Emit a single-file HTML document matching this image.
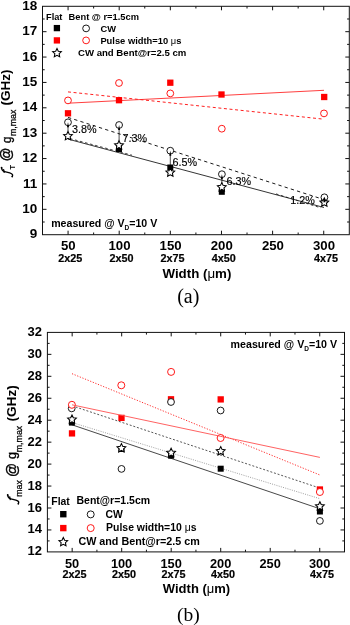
<!DOCTYPE html>
<html><head><meta charset="utf-8"><style>
html,body{margin:0;padding:0;background:#fff;}
body{width:350px;height:625px;overflow:hidden;font-family:"Liberation Sans", sans-serif;}
svg{display:block;will-change:transform;}
</style></head><body>
<svg width="350" height="625" viewBox="0 0 350 625">
<rect width="350" height="625" fill="#fff"/>
<rect x="42.50" y="6.30" width="306.80" height="228.40" fill="none" stroke="#111" stroke-width="1.00"/>
<line x1="68.07" y1="234.70" x2="68.07" y2="230.70" stroke="#111" stroke-width="1.00"/>
<line x1="68.07" y1="6.30" x2="68.07" y2="10.30" stroke="#111" stroke-width="1.00"/>
<line x1="119.20" y1="234.70" x2="119.20" y2="230.70" stroke="#111" stroke-width="1.00"/>
<line x1="119.20" y1="6.30" x2="119.20" y2="10.30" stroke="#111" stroke-width="1.00"/>
<line x1="170.33" y1="234.70" x2="170.33" y2="230.70" stroke="#111" stroke-width="1.00"/>
<line x1="170.33" y1="6.30" x2="170.33" y2="10.30" stroke="#111" stroke-width="1.00"/>
<line x1="221.47" y1="234.70" x2="221.47" y2="230.70" stroke="#111" stroke-width="1.00"/>
<line x1="221.47" y1="6.30" x2="221.47" y2="10.30" stroke="#111" stroke-width="1.00"/>
<line x1="272.60" y1="234.70" x2="272.60" y2="230.70" stroke="#111" stroke-width="1.00"/>
<line x1="272.60" y1="6.30" x2="272.60" y2="10.30" stroke="#111" stroke-width="1.00"/>
<line x1="323.73" y1="234.70" x2="323.73" y2="230.70" stroke="#111" stroke-width="1.00"/>
<line x1="323.73" y1="6.30" x2="323.73" y2="10.30" stroke="#111" stroke-width="1.00"/>
<line x1="93.63" y1="234.70" x2="93.63" y2="232.50" stroke="#111" stroke-width="1.00"/>
<line x1="93.63" y1="6.30" x2="93.63" y2="8.50" stroke="#111" stroke-width="1.00"/>
<line x1="144.77" y1="234.70" x2="144.77" y2="232.50" stroke="#111" stroke-width="1.00"/>
<line x1="144.77" y1="6.30" x2="144.77" y2="8.50" stroke="#111" stroke-width="1.00"/>
<line x1="195.90" y1="234.70" x2="195.90" y2="232.50" stroke="#111" stroke-width="1.00"/>
<line x1="195.90" y1="6.30" x2="195.90" y2="8.50" stroke="#111" stroke-width="1.00"/>
<line x1="247.03" y1="234.70" x2="247.03" y2="232.50" stroke="#111" stroke-width="1.00"/>
<line x1="247.03" y1="6.30" x2="247.03" y2="8.50" stroke="#111" stroke-width="1.00"/>
<line x1="298.17" y1="234.70" x2="298.17" y2="232.50" stroke="#111" stroke-width="1.00"/>
<line x1="298.17" y1="6.30" x2="298.17" y2="8.50" stroke="#111" stroke-width="1.00"/>
<line x1="42.50" y1="209.32" x2="46.50" y2="209.32" stroke="#111" stroke-width="1.00"/>
<line x1="349.30" y1="209.32" x2="345.30" y2="209.32" stroke="#111" stroke-width="1.00"/>
<line x1="42.50" y1="183.94" x2="46.50" y2="183.94" stroke="#111" stroke-width="1.00"/>
<line x1="349.30" y1="183.94" x2="345.30" y2="183.94" stroke="#111" stroke-width="1.00"/>
<line x1="42.50" y1="158.57" x2="46.50" y2="158.57" stroke="#111" stroke-width="1.00"/>
<line x1="349.30" y1="158.57" x2="345.30" y2="158.57" stroke="#111" stroke-width="1.00"/>
<line x1="42.50" y1="133.19" x2="46.50" y2="133.19" stroke="#111" stroke-width="1.00"/>
<line x1="349.30" y1="133.19" x2="345.30" y2="133.19" stroke="#111" stroke-width="1.00"/>
<line x1="42.50" y1="107.81" x2="46.50" y2="107.81" stroke="#111" stroke-width="1.00"/>
<line x1="349.30" y1="107.81" x2="345.30" y2="107.81" stroke="#111" stroke-width="1.00"/>
<line x1="42.50" y1="82.43" x2="46.50" y2="82.43" stroke="#111" stroke-width="1.00"/>
<line x1="349.30" y1="82.43" x2="345.30" y2="82.43" stroke="#111" stroke-width="1.00"/>
<line x1="42.50" y1="57.06" x2="46.50" y2="57.06" stroke="#111" stroke-width="1.00"/>
<line x1="349.30" y1="57.06" x2="345.30" y2="57.06" stroke="#111" stroke-width="1.00"/>
<line x1="42.50" y1="31.68" x2="46.50" y2="31.68" stroke="#111" stroke-width="1.00"/>
<line x1="349.30" y1="31.68" x2="345.30" y2="31.68" stroke="#111" stroke-width="1.00"/>
<line x1="42.50" y1="222.01" x2="44.70" y2="222.01" stroke="#111" stroke-width="1.00"/>
<line x1="349.30" y1="222.01" x2="347.10" y2="222.01" stroke="#111" stroke-width="1.00"/>
<line x1="42.50" y1="196.63" x2="44.70" y2="196.63" stroke="#111" stroke-width="1.00"/>
<line x1="349.30" y1="196.63" x2="347.10" y2="196.63" stroke="#111" stroke-width="1.00"/>
<line x1="42.50" y1="171.26" x2="44.70" y2="171.26" stroke="#111" stroke-width="1.00"/>
<line x1="349.30" y1="171.26" x2="347.10" y2="171.26" stroke="#111" stroke-width="1.00"/>
<line x1="42.50" y1="145.88" x2="44.70" y2="145.88" stroke="#111" stroke-width="1.00"/>
<line x1="349.30" y1="145.88" x2="347.10" y2="145.88" stroke="#111" stroke-width="1.00"/>
<line x1="42.50" y1="120.50" x2="44.70" y2="120.50" stroke="#111" stroke-width="1.00"/>
<line x1="349.30" y1="120.50" x2="347.10" y2="120.50" stroke="#111" stroke-width="1.00"/>
<line x1="42.50" y1="95.12" x2="44.70" y2="95.12" stroke="#111" stroke-width="1.00"/>
<line x1="349.30" y1="95.12" x2="347.10" y2="95.12" stroke="#111" stroke-width="1.00"/>
<line x1="42.50" y1="69.74" x2="44.70" y2="69.74" stroke="#111" stroke-width="1.00"/>
<line x1="349.30" y1="69.74" x2="347.10" y2="69.74" stroke="#111" stroke-width="1.00"/>
<line x1="42.50" y1="44.37" x2="44.70" y2="44.37" stroke="#111" stroke-width="1.00"/>
<line x1="349.30" y1="44.37" x2="347.10" y2="44.37" stroke="#111" stroke-width="1.00"/>
<line x1="42.50" y1="18.99" x2="44.70" y2="18.99" stroke="#111" stroke-width="1.00"/>
<line x1="349.30" y1="18.99" x2="347.10" y2="18.99" stroke="#111" stroke-width="1.00"/>
<text x="37.20" y="238.30" font-family='"Liberation Sans", sans-serif' font-size="13.50" font-weight="bold" text-anchor="end">9</text>
<text x="37.20" y="212.92" font-family='"Liberation Sans", sans-serif' font-size="13.50" font-weight="bold" text-anchor="end">10</text>
<text x="37.20" y="187.54" font-family='"Liberation Sans", sans-serif' font-size="13.50" font-weight="bold" text-anchor="end">11</text>
<text x="37.20" y="162.17" font-family='"Liberation Sans", sans-serif' font-size="13.50" font-weight="bold" text-anchor="end">12</text>
<text x="37.20" y="136.79" font-family='"Liberation Sans", sans-serif' font-size="13.50" font-weight="bold" text-anchor="end">13</text>
<text x="37.20" y="111.41" font-family='"Liberation Sans", sans-serif' font-size="13.50" font-weight="bold" text-anchor="end">14</text>
<text x="37.20" y="86.03" font-family='"Liberation Sans", sans-serif' font-size="13.50" font-weight="bold" text-anchor="end">15</text>
<text x="37.20" y="60.66" font-family='"Liberation Sans", sans-serif' font-size="13.50" font-weight="bold" text-anchor="end">16</text>
<text x="37.20" y="35.28" font-family='"Liberation Sans", sans-serif' font-size="13.50" font-weight="bold" text-anchor="end">17</text>
<text x="37.20" y="9.90" font-family='"Liberation Sans", sans-serif' font-size="13.50" font-weight="bold" text-anchor="end">18</text>
<text x="68.37" y="250.40" font-family='"Liberation Sans", sans-serif' font-size="13.20" font-weight="bold" text-anchor="middle">50</text>
<text x="70.37" y="261.70" font-family='"Liberation Sans", sans-serif' font-size="10.80" font-weight="bold" text-anchor="middle" stroke="#000" stroke-width="0.2">2x25</text>
<text x="119.50" y="250.40" font-family='"Liberation Sans", sans-serif' font-size="13.20" font-weight="bold" text-anchor="middle">100</text>
<text x="121.50" y="261.70" font-family='"Liberation Sans", sans-serif' font-size="10.80" font-weight="bold" text-anchor="middle" stroke="#000" stroke-width="0.2">2x50</text>
<text x="170.63" y="250.40" font-family='"Liberation Sans", sans-serif' font-size="13.20" font-weight="bold" text-anchor="middle">150</text>
<text x="172.63" y="261.70" font-family='"Liberation Sans", sans-serif' font-size="10.80" font-weight="bold" text-anchor="middle" stroke="#000" stroke-width="0.2">2x75</text>
<text x="221.77" y="250.40" font-family='"Liberation Sans", sans-serif' font-size="13.20" font-weight="bold" text-anchor="middle">200</text>
<text x="223.77" y="261.70" font-family='"Liberation Sans", sans-serif' font-size="10.80" font-weight="bold" text-anchor="middle" stroke="#000" stroke-width="0.2">4x50</text>
<text x="272.90" y="250.40" font-family='"Liberation Sans", sans-serif' font-size="13.20" font-weight="bold" text-anchor="middle">250</text>
<text x="324.03" y="250.40" font-family='"Liberation Sans", sans-serif' font-size="13.20" font-weight="bold" text-anchor="middle">300</text>
<text x="326.03" y="261.70" font-family='"Liberation Sans", sans-serif' font-size="10.80" font-weight="bold" text-anchor="middle" stroke="#000" stroke-width="0.2">4x75</text>
<text x="196.90" y="277.60" font-family='"Liberation Sans", sans-serif' font-size="13.30" font-weight="bold" text-anchor="middle">Width (<tspan font-weight="normal">&#956;</tspan>m)</text>
<text x="188.30" y="302.60" font-family='"Liberation Serif", serif' font-size="20.00" font-weight="normal" text-anchor="middle">(a)</text>
<path d="M1.50 167.70 C1.70 170.00 3.00 171.20 4.80 171.70 C7.40 172.40 9.90 172.90 11.60 173.70 C12.80 174.40 12.70 175.80 12.20 176.70" fill="none" stroke="#000" stroke-width="1.25" stroke-linecap="round"/>
<circle cx="1.60" cy="167.70" r="0.9" fill="#000"/>
<circle cx="12.20" cy="176.60" r="0.8" fill="#000"/>
<line x1="3.50" y1="169.10" x2="4.30" y2="172.90" stroke="#000" stroke-width="1.2"/>
<g transform="translate(10.4,177.6) rotate(-90)">
<text font-family='"Liberation Sans", sans-serif' font-size="7.6" font-weight="bold" x="8.0" y="5.0">T</text>
<text font-family='"Liberation Sans", sans-serif' font-size="14.9" x="16.4" y="0.5" textLength="13.6" lengthAdjust="spacingAndGlyphs" stroke="#000" stroke-width="0.45">@</text>
<text font-family='"Liberation Sans", sans-serif' font-size="12" x="34.6" y="0.3" textLength="6.4" lengthAdjust="spacingAndGlyphs" stroke="#000" stroke-width="0.35">g</text>
<text font-family='"Liberation Sans", sans-serif' font-size="8.8" x="41.6" y="6.0" stroke="#000" stroke-width="0.25">m,max</text>
<text font-family='"Liberation Sans", sans-serif' font-size="13.5" font-weight="bold" x="72.2" y="0">(GHz)</text>
</g>
<line x1="68.00" y1="103.20" x2="324.00" y2="90.30" stroke="#ff2a2a" stroke-width="0.90"/>
<line x1="68.00" y1="91.90" x2="324.00" y2="119.20" stroke="#ff2020" stroke-width="1.00" stroke-dasharray="3 2.6"/>
<line x1="68.00" y1="117.40" x2="324.00" y2="199.60" stroke="#000" stroke-width="0.90" stroke-dasharray="3.3 3.2"/>
<line x1="68.00" y1="139.10" x2="324.00" y2="207.50" stroke="#111" stroke-width="0.85"/>
<line x1="70.00" y1="138.60" x2="132.00" y2="155.20" stroke="#111" stroke-width="0.80" stroke-dasharray="2.6 2.6"/>
<line x1="276.00" y1="193.90" x2="321.00" y2="207.90" stroke="#111" stroke-width="0.80" stroke-dasharray="2.6 2.6"/>
<rect x="64.85" y="110.15" width="6.30" height="6.30" fill="#ff0000"/>
<rect x="115.85" y="97.05" width="6.30" height="6.30" fill="#ff0000"/>
<rect x="167.15" y="79.55" width="6.30" height="6.30" fill="#ff0000"/>
<rect x="218.35" y="91.35" width="6.30" height="6.30" fill="#ff0000"/>
<rect x="321.05" y="93.85" width="6.30" height="6.30" fill="#ff0000"/>
<circle cx="68.00" cy="100.40" r="3.40" fill="#fff" stroke="#ff0000" stroke-width="0.90"/>
<circle cx="119.00" cy="83.00" r="3.40" fill="#fff" stroke="#ff0000" stroke-width="0.90"/>
<circle cx="170.30" cy="93.40" r="3.40" fill="#fff" stroke="#ff0000" stroke-width="0.90"/>
<circle cx="221.80" cy="128.70" r="3.40" fill="#fff" stroke="#ff0000" stroke-width="0.90"/>
<circle cx="324.00" cy="113.40" r="3.40" fill="#fff" stroke="#ff0000" stroke-width="0.90"/>
<rect x="116.00" y="146.00" width="6.00" height="6.00" fill="#000"/>
<rect x="167.30" y="164.50" width="6.00" height="6.00" fill="#000"/>
<rect x="218.80" y="188.80" width="6.00" height="6.00" fill="#000"/>
<rect x="321.20" y="196.00" width="6.00" height="6.00" fill="#000"/>
<circle cx="68.00" cy="122.30" r="3.40" fill="#fff" stroke="#000" stroke-width="0.90"/>
<circle cx="119.10" cy="125.00" r="3.40" fill="#fff" stroke="#000" stroke-width="0.90"/>
<circle cx="170.30" cy="150.70" r="3.40" fill="#fff" stroke="#000" stroke-width="0.90"/>
<circle cx="221.90" cy="174.20" r="3.40" fill="#fff" stroke="#000" stroke-width="0.90"/>
<circle cx="324.40" cy="197.30" r="3.40" fill="#fff" stroke="#000" stroke-width="0.90"/>
<path d="M68.00 131.40 L69.32 134.18 L72.37 134.58 L70.14 136.70 L70.70 139.72 L68.00 138.25 L65.30 139.72 L65.86 136.70 L63.63 134.58 L66.68 134.18 Z" fill="#fff" stroke="#000" stroke-width="1.05" stroke-linejoin="miter"/>
<path d="M119.00 140.70 L120.32 143.48 L123.37 143.88 L121.14 146.00 L121.70 149.02 L119.00 147.55 L116.30 149.02 L116.86 146.00 L114.63 143.88 L117.68 143.48 Z" fill="#fff" stroke="#000" stroke-width="1.05" stroke-linejoin="miter"/>
<path d="M170.30 167.90 L171.62 170.68 L174.67 171.08 L172.44 173.20 L173.00 176.22 L170.30 174.75 L167.60 176.22 L168.16 173.20 L165.93 171.08 L168.98 170.68 Z" fill="#fff" stroke="#000" stroke-width="1.05" stroke-linejoin="miter"/>
<path d="M221.80 182.60 L223.12 185.38 L226.17 185.78 L223.94 187.90 L224.50 190.92 L221.80 189.45 L219.10 190.92 L219.66 187.90 L217.43 185.78 L220.48 185.38 Z" fill="#fff" stroke="#000" stroke-width="1.05" stroke-linejoin="miter"/>
<path d="M324.30 198.00 L325.62 200.78 L328.67 201.18 L326.44 203.30 L327.00 206.32 L324.30 204.85 L321.60 206.32 L322.16 203.30 L319.93 201.18 L322.98 200.78 Z" fill="#fff" stroke="#000" stroke-width="1.05" stroke-linejoin="miter"/>
<line x1="68.00" y1="131.60" x2="68.00" y2="125.30" stroke="#000" stroke-width="0.70"/>
<path d="M68.00 122.30 L66.95 127.30 L69.05 127.30 Z" fill="#000"/>
<line x1="119.10" y1="140.90" x2="119.10" y2="128.00" stroke="#000" stroke-width="0.70"/>
<path d="M119.10 125.00 L118.05 130.00 L120.15 130.00 Z" fill="#000"/>
<line x1="170.30" y1="168.10" x2="170.30" y2="153.70" stroke="#000" stroke-width="0.70"/>
<path d="M170.30 150.70 L169.25 155.70 L171.35 155.70 Z" fill="#000"/>
<line x1="221.90" y1="182.80" x2="221.90" y2="177.20" stroke="#000" stroke-width="0.70"/>
<path d="M221.90 174.20 L220.85 179.20 L222.95 179.20 Z" fill="#000"/>
<line x1="324.40" y1="198.20" x2="324.40" y2="200.30" stroke="#000" stroke-width="0.70"/>
<path d="M324.40 197.30 L323.35 202.30 L325.45 202.30 Z" fill="#000"/>
<text x="72.00" y="133.00" font-family='"Liberation Sans", sans-serif' font-size="10.80" font-weight="normal" text-anchor="start" stroke="#000" stroke-width="0.15">3.8%</text>
<text x="122.40" y="142.00" font-family='"Liberation Sans", sans-serif' font-size="10.80" font-weight="normal" text-anchor="start" stroke="#000" stroke-width="0.15">7.3%</text>
<text x="172.60" y="166.10" font-family='"Liberation Sans", sans-serif' font-size="10.80" font-weight="normal" text-anchor="start" stroke="#000" stroke-width="0.15">6.5%</text>
<text x="226.60" y="185.30" font-family='"Liberation Sans", sans-serif' font-size="10.80" font-weight="normal" text-anchor="start" stroke="#000" stroke-width="0.15">6.3%</text>
<text x="290.30" y="204.30" font-family='"Liberation Sans", sans-serif' font-size="10.80" font-weight="normal" text-anchor="start" stroke="#000" stroke-width="0.15">1.2%</text>
<text x="46.10" y="19.70" font-family='"Liberation Sans", sans-serif' font-size="9.20" font-weight="bold" text-anchor="start">Flat</text>
<text x="68.60" y="19.90" font-family='"Liberation Sans", sans-serif' font-size="9.30" font-weight="bold" text-anchor="start">Bent @ r=1.5cm</text>
<rect x="53.75" y="24.95" width="6.30" height="6.30" fill="#000"/>
<circle cx="86.10" cy="28.40" r="3.40" fill="#fff" stroke="#000" stroke-width="0.90"/>
<text x="100.60" y="31.60" font-family='"Liberation Sans", sans-serif' font-size="9.30" font-weight="bold" text-anchor="start">CW</text>
<rect x="53.75" y="37.25" width="6.30" height="6.30" fill="#ff0000"/>
<circle cx="86.10" cy="40.40" r="3.40" fill="#fff" stroke="#ff0000" stroke-width="0.90"/>
<text x="100.40" y="43.60" font-family='"Liberation Sans", sans-serif' font-size="9.35" font-weight="bold" text-anchor="start">Pulse width=10 <tspan font-weight="normal">&#956;</tspan>s</text>
<path d="M57.00 48.40 L58.32 51.18 L61.37 51.58 L59.14 53.70 L59.70 56.72 L57.00 55.25 L54.30 56.72 L54.86 53.70 L52.63 51.58 L55.68 51.18 Z" fill="#fff" stroke="#000" stroke-width="1.05" stroke-linejoin="miter"/>
<text x="78.00" y="55.60" font-family='"Liberation Sans", sans-serif' font-size="9.60" font-weight="bold" text-anchor="start">CW and Bent@r=2.5 cm</text>
<text x="51.2" y="227.1" font-family='"Liberation Sans", sans-serif' font-size="10.6" font-weight="bold">measured @ V<tspan font-size="6.5" dy="2.6">D</tspan><tspan dy="-2.6">=10 V</tspan></text>
<rect x="47.40" y="332.40" width="297.10" height="219.50" fill="none" stroke="#111" stroke-width="1.00"/>
<line x1="72.16" y1="551.90" x2="72.16" y2="547.90" stroke="#111" stroke-width="1.00"/>
<line x1="72.16" y1="332.40" x2="72.16" y2="336.40" stroke="#111" stroke-width="1.00"/>
<line x1="121.68" y1="551.90" x2="121.68" y2="547.90" stroke="#111" stroke-width="1.00"/>
<line x1="121.68" y1="332.40" x2="121.68" y2="336.40" stroke="#111" stroke-width="1.00"/>
<line x1="171.19" y1="551.90" x2="171.19" y2="547.90" stroke="#111" stroke-width="1.00"/>
<line x1="171.19" y1="332.40" x2="171.19" y2="336.40" stroke="#111" stroke-width="1.00"/>
<line x1="220.71" y1="551.90" x2="220.71" y2="547.90" stroke="#111" stroke-width="1.00"/>
<line x1="220.71" y1="332.40" x2="220.71" y2="336.40" stroke="#111" stroke-width="1.00"/>
<line x1="270.22" y1="551.90" x2="270.22" y2="547.90" stroke="#111" stroke-width="1.00"/>
<line x1="270.22" y1="332.40" x2="270.22" y2="336.40" stroke="#111" stroke-width="1.00"/>
<line x1="319.74" y1="551.90" x2="319.74" y2="547.90" stroke="#111" stroke-width="1.00"/>
<line x1="319.74" y1="332.40" x2="319.74" y2="336.40" stroke="#111" stroke-width="1.00"/>
<line x1="96.92" y1="551.90" x2="96.92" y2="549.70" stroke="#111" stroke-width="1.00"/>
<line x1="96.92" y1="332.40" x2="96.92" y2="334.60" stroke="#111" stroke-width="1.00"/>
<line x1="146.43" y1="551.90" x2="146.43" y2="549.70" stroke="#111" stroke-width="1.00"/>
<line x1="146.43" y1="332.40" x2="146.43" y2="334.60" stroke="#111" stroke-width="1.00"/>
<line x1="195.95" y1="551.90" x2="195.95" y2="549.70" stroke="#111" stroke-width="1.00"/>
<line x1="195.95" y1="332.40" x2="195.95" y2="334.60" stroke="#111" stroke-width="1.00"/>
<line x1="245.47" y1="551.90" x2="245.47" y2="549.70" stroke="#111" stroke-width="1.00"/>
<line x1="245.47" y1="332.40" x2="245.47" y2="334.60" stroke="#111" stroke-width="1.00"/>
<line x1="294.98" y1="551.90" x2="294.98" y2="549.70" stroke="#111" stroke-width="1.00"/>
<line x1="294.98" y1="332.40" x2="294.98" y2="334.60" stroke="#111" stroke-width="1.00"/>
<line x1="47.40" y1="529.95" x2="51.40" y2="529.95" stroke="#111" stroke-width="1.00"/>
<line x1="344.50" y1="529.95" x2="340.50" y2="529.95" stroke="#111" stroke-width="1.00"/>
<line x1="47.40" y1="508.00" x2="51.40" y2="508.00" stroke="#111" stroke-width="1.00"/>
<line x1="344.50" y1="508.00" x2="340.50" y2="508.00" stroke="#111" stroke-width="1.00"/>
<line x1="47.40" y1="486.05" x2="51.40" y2="486.05" stroke="#111" stroke-width="1.00"/>
<line x1="344.50" y1="486.05" x2="340.50" y2="486.05" stroke="#111" stroke-width="1.00"/>
<line x1="47.40" y1="464.10" x2="51.40" y2="464.10" stroke="#111" stroke-width="1.00"/>
<line x1="344.50" y1="464.10" x2="340.50" y2="464.10" stroke="#111" stroke-width="1.00"/>
<line x1="47.40" y1="442.15" x2="51.40" y2="442.15" stroke="#111" stroke-width="1.00"/>
<line x1="344.50" y1="442.15" x2="340.50" y2="442.15" stroke="#111" stroke-width="1.00"/>
<line x1="47.40" y1="420.20" x2="51.40" y2="420.20" stroke="#111" stroke-width="1.00"/>
<line x1="344.50" y1="420.20" x2="340.50" y2="420.20" stroke="#111" stroke-width="1.00"/>
<line x1="47.40" y1="398.25" x2="51.40" y2="398.25" stroke="#111" stroke-width="1.00"/>
<line x1="344.50" y1="398.25" x2="340.50" y2="398.25" stroke="#111" stroke-width="1.00"/>
<line x1="47.40" y1="376.30" x2="51.40" y2="376.30" stroke="#111" stroke-width="1.00"/>
<line x1="344.50" y1="376.30" x2="340.50" y2="376.30" stroke="#111" stroke-width="1.00"/>
<line x1="47.40" y1="354.35" x2="51.40" y2="354.35" stroke="#111" stroke-width="1.00"/>
<line x1="344.50" y1="354.35" x2="340.50" y2="354.35" stroke="#111" stroke-width="1.00"/>
<line x1="47.40" y1="540.92" x2="49.60" y2="540.92" stroke="#111" stroke-width="1.00"/>
<line x1="344.50" y1="540.92" x2="342.30" y2="540.92" stroke="#111" stroke-width="1.00"/>
<line x1="47.40" y1="518.98" x2="49.60" y2="518.98" stroke="#111" stroke-width="1.00"/>
<line x1="344.50" y1="518.98" x2="342.30" y2="518.98" stroke="#111" stroke-width="1.00"/>
<line x1="47.40" y1="497.02" x2="49.60" y2="497.02" stroke="#111" stroke-width="1.00"/>
<line x1="344.50" y1="497.02" x2="342.30" y2="497.02" stroke="#111" stroke-width="1.00"/>
<line x1="47.40" y1="475.07" x2="49.60" y2="475.07" stroke="#111" stroke-width="1.00"/>
<line x1="344.50" y1="475.07" x2="342.30" y2="475.07" stroke="#111" stroke-width="1.00"/>
<line x1="47.40" y1="453.12" x2="49.60" y2="453.12" stroke="#111" stroke-width="1.00"/>
<line x1="344.50" y1="453.12" x2="342.30" y2="453.12" stroke="#111" stroke-width="1.00"/>
<line x1="47.40" y1="431.17" x2="49.60" y2="431.17" stroke="#111" stroke-width="1.00"/>
<line x1="344.50" y1="431.17" x2="342.30" y2="431.17" stroke="#111" stroke-width="1.00"/>
<line x1="47.40" y1="409.22" x2="49.60" y2="409.22" stroke="#111" stroke-width="1.00"/>
<line x1="344.50" y1="409.22" x2="342.30" y2="409.22" stroke="#111" stroke-width="1.00"/>
<line x1="47.40" y1="387.27" x2="49.60" y2="387.27" stroke="#111" stroke-width="1.00"/>
<line x1="344.50" y1="387.27" x2="342.30" y2="387.27" stroke="#111" stroke-width="1.00"/>
<line x1="47.40" y1="365.32" x2="49.60" y2="365.32" stroke="#111" stroke-width="1.00"/>
<line x1="344.50" y1="365.32" x2="342.30" y2="365.32" stroke="#111" stroke-width="1.00"/>
<line x1="47.40" y1="343.38" x2="49.60" y2="343.38" stroke="#111" stroke-width="1.00"/>
<line x1="344.50" y1="343.38" x2="342.30" y2="343.38" stroke="#111" stroke-width="1.00"/>
<text x="41.90" y="555.40" font-family='"Liberation Sans", sans-serif' font-size="13.00" font-weight="bold" text-anchor="end">12</text>
<text x="41.90" y="533.45" font-family='"Liberation Sans", sans-serif' font-size="13.00" font-weight="bold" text-anchor="end">14</text>
<text x="41.90" y="511.50" font-family='"Liberation Sans", sans-serif' font-size="13.00" font-weight="bold" text-anchor="end">16</text>
<text x="41.90" y="489.55" font-family='"Liberation Sans", sans-serif' font-size="13.00" font-weight="bold" text-anchor="end">18</text>
<text x="41.90" y="467.60" font-family='"Liberation Sans", sans-serif' font-size="13.00" font-weight="bold" text-anchor="end">20</text>
<text x="41.90" y="445.65" font-family='"Liberation Sans", sans-serif' font-size="13.00" font-weight="bold" text-anchor="end">22</text>
<text x="41.90" y="423.70" font-family='"Liberation Sans", sans-serif' font-size="13.00" font-weight="bold" text-anchor="end">24</text>
<text x="41.90" y="401.75" font-family='"Liberation Sans", sans-serif' font-size="13.00" font-weight="bold" text-anchor="end">26</text>
<text x="41.90" y="379.80" font-family='"Liberation Sans", sans-serif' font-size="13.00" font-weight="bold" text-anchor="end">28</text>
<text x="41.90" y="357.85" font-family='"Liberation Sans", sans-serif' font-size="13.00" font-weight="bold" text-anchor="end">30</text>
<text x="41.90" y="335.90" font-family='"Liberation Sans", sans-serif' font-size="13.00" font-weight="bold" text-anchor="end">32</text>
<text x="72.06" y="567.60" font-family='"Liberation Sans", sans-serif' font-size="12.80" font-weight="bold" text-anchor="middle">50</text>
<text x="74.56" y="577.90" font-family='"Liberation Sans", sans-serif' font-size="10.80" font-weight="bold" text-anchor="middle" stroke="#000" stroke-width="0.2">2x25</text>
<text x="121.58" y="567.60" font-family='"Liberation Sans", sans-serif' font-size="12.80" font-weight="bold" text-anchor="middle">100</text>
<text x="124.08" y="577.90" font-family='"Liberation Sans", sans-serif' font-size="10.80" font-weight="bold" text-anchor="middle" stroke="#000" stroke-width="0.2">2x50</text>
<text x="171.09" y="567.60" font-family='"Liberation Sans", sans-serif' font-size="12.80" font-weight="bold" text-anchor="middle">150</text>
<text x="173.59" y="577.90" font-family='"Liberation Sans", sans-serif' font-size="10.80" font-weight="bold" text-anchor="middle" stroke="#000" stroke-width="0.2">2x75</text>
<text x="220.61" y="567.60" font-family='"Liberation Sans", sans-serif' font-size="12.80" font-weight="bold" text-anchor="middle">200</text>
<text x="223.11" y="577.90" font-family='"Liberation Sans", sans-serif' font-size="10.80" font-weight="bold" text-anchor="middle" stroke="#000" stroke-width="0.2">4x50</text>
<text x="270.12" y="567.60" font-family='"Liberation Sans", sans-serif' font-size="12.80" font-weight="bold" text-anchor="middle">250</text>
<text x="319.64" y="567.60" font-family='"Liberation Sans", sans-serif' font-size="12.80" font-weight="bold" text-anchor="middle">300</text>
<text x="322.14" y="577.90" font-family='"Liberation Sans", sans-serif' font-size="10.80" font-weight="bold" text-anchor="middle" stroke="#000" stroke-width="0.2">4x75</text>
<text x="196.50" y="593.00" font-family='"Liberation Sans", sans-serif' font-size="13.00" font-weight="bold" text-anchor="middle">Width (<tspan font-weight="normal">&#956;</tspan>m)</text>
<text x="188.30" y="621.00" font-family='"Liberation Serif", serif' font-size="19.50" font-weight="normal" text-anchor="middle">(b)</text>
<path d="M7.60 494.90 C7.80 497.20 9.10 498.40 10.90 498.90 C13.50 499.60 16.00 500.10 17.70 500.90 C18.90 501.60 18.80 503.00 18.30 503.90" fill="none" stroke="#000" stroke-width="1.25" stroke-linecap="round"/>
<circle cx="7.70" cy="494.90" r="0.9" fill="#000"/>
<circle cx="18.30" cy="503.80" r="0.8" fill="#000"/>
<line x1="9.60" y1="496.30" x2="10.40" y2="500.10" stroke="#000" stroke-width="1.2"/>
<g transform="translate(15.8,504.6) rotate(-90)">
<text font-family='"Liberation Sans", sans-serif' font-size="8.8" x="7.8" y="6.4" stroke="#000" stroke-width="0.25">max</text>
<text font-family='"Liberation Sans", sans-serif' font-size="15.4" x="27.6" y="1.0" textLength="14.0" lengthAdjust="spacingAndGlyphs" stroke="#000" stroke-width="0.45">@</text>
<text font-family='"Liberation Sans", sans-serif' font-size="12" x="45.6" y="0.3" textLength="7.0" lengthAdjust="spacingAndGlyphs" stroke="#000" stroke-width="0.35">g</text>
<text font-family='"Liberation Sans", sans-serif' font-size="8.8" x="52.4" y="6.3" stroke="#000" stroke-width="0.25">m,max</text>
<text font-family='"Liberation Sans", sans-serif' font-size="13.7" font-weight="bold" x="83.0" y="0">(GHz)</text>
</g>
<line x1="72.00" y1="373.70" x2="319.90" y2="475.00" stroke="#ff3030" stroke-width="1.00" stroke-dasharray="1.2 1.6"/>
<line x1="72.00" y1="405.80" x2="319.90" y2="488.10" stroke="#444" stroke-width="0.90" stroke-dasharray="2 1.8"/>
<line x1="72.00" y1="422.50" x2="319.90" y2="498.70" stroke="#888" stroke-width="0.80" stroke-dasharray="1 1.3"/>
<line x1="72.00" y1="424.80" x2="319.90" y2="508.80" stroke="#333" stroke-width="0.90"/>
<rect x="68.90" y="419.60" width="6.00" height="6.00" fill="#000"/>
<rect x="118.50" y="446.00" width="6.00" height="6.00" fill="#000"/>
<rect x="168.10" y="452.70" width="6.00" height="6.00" fill="#000"/>
<rect x="217.70" y="465.70" width="6.00" height="6.00" fill="#000"/>
<rect x="316.90" y="508.50" width="6.00" height="6.00" fill="#000"/>
<path d="M72.00 414.90 L73.32 417.68 L76.37 418.08 L74.14 420.20 L74.70 423.22 L72.00 421.75 L69.30 423.22 L69.86 420.20 L67.63 418.08 L70.68 417.68 Z" fill="#fff" stroke="#000" stroke-width="1.05" stroke-linejoin="miter"/>
<path d="M121.40 443.60 L122.72 446.38 L125.77 446.78 L123.54 448.90 L124.10 451.92 L121.40 450.45 L118.70 451.92 L119.26 448.90 L117.03 446.78 L120.08 446.38 Z" fill="#fff" stroke="#000" stroke-width="1.05" stroke-linejoin="miter"/>
<path d="M171.10 448.20 L172.42 450.98 L175.47 451.38 L173.24 453.50 L173.80 456.52 L171.10 455.05 L168.40 456.52 L168.96 453.50 L166.73 451.38 L169.78 450.98 Z" fill="#fff" stroke="#000" stroke-width="1.05" stroke-linejoin="miter"/>
<path d="M220.70 446.60 L222.02 449.38 L225.07 449.78 L222.84 451.90 L223.40 454.92 L220.70 453.45 L218.00 454.92 L218.56 451.90 L216.33 449.78 L219.38 449.38 Z" fill="#fff" stroke="#000" stroke-width="1.05" stroke-linejoin="miter"/>
<path d="M319.90 501.70 L321.22 504.48 L324.27 504.88 L322.04 507.00 L322.60 510.02 L319.90 508.55 L317.20 510.02 L317.76 507.00 L315.53 504.88 L318.58 504.48 Z" fill="#fff" stroke="#000" stroke-width="1.05" stroke-linejoin="miter"/>
<rect x="68.85" y="430.25" width="6.30" height="6.30" fill="#ff0000"/>
<rect x="118.35" y="414.75" width="6.30" height="6.30" fill="#ff0000"/>
<rect x="167.85" y="396.15" width="6.30" height="6.30" fill="#ff0000"/>
<rect x="217.55" y="396.25" width="6.30" height="6.30" fill="#ff0000"/>
<rect x="316.75" y="486.35" width="6.30" height="6.30" fill="#ff0000"/>
<circle cx="71.70" cy="408.40" r="3.40" fill="#fff" stroke="#000" stroke-width="0.90"/>
<circle cx="121.50" cy="468.90" r="3.40" fill="#fff" stroke="#000" stroke-width="0.90"/>
<circle cx="171.00" cy="402.00" r="3.40" fill="#fff" stroke="#000" stroke-width="0.90"/>
<circle cx="220.60" cy="410.50" r="3.40" fill="#fff" stroke="#000" stroke-width="0.90"/>
<circle cx="319.90" cy="520.90" r="3.40" fill="#fff" stroke="#000" stroke-width="0.90"/>
<circle cx="71.90" cy="404.80" r="3.50" fill="#fff" stroke="#ff0000" stroke-width="0.90"/>
<circle cx="121.30" cy="385.30" r="3.50" fill="#fff" stroke="#ff0000" stroke-width="0.90"/>
<circle cx="171.10" cy="371.90" r="3.50" fill="#fff" stroke="#ff0000" stroke-width="0.90"/>
<circle cx="220.60" cy="438.00" r="3.50" fill="#fff" stroke="#ff0000" stroke-width="0.90"/>
<circle cx="319.90" cy="492.00" r="3.50" fill="#fff" stroke="#ff0000" stroke-width="0.90"/>
<line x1="72.00" y1="404.80" x2="319.90" y2="457.40" stroke="#ff5050" stroke-width="0.90"/>
<text x="230.6" y="347.9" font-family='"Liberation Sans", sans-serif' font-size="10.65" font-weight="bold">measured @ V<tspan font-size="6.5" dy="2.6">D</tspan><tspan dy="-2.6">=10 V</tspan></text>
<text x="51.30" y="504.60" font-family='"Liberation Sans", sans-serif' font-size="10.40" font-weight="bold" text-anchor="start">Flat</text>
<text x="76.50" y="503.80" font-family='"Liberation Sans", sans-serif' font-size="10.50" font-weight="bold" text-anchor="start">Bent@r=1.5cm</text>
<rect x="60.10" y="511.00" width="6.40" height="6.40" fill="#000"/>
<circle cx="90.70" cy="514.40" r="3.50" fill="#fff" stroke="#000" stroke-width="0.90"/>
<text x="105.60" y="517.60" font-family='"Liberation Sans", sans-serif' font-size="10.40" font-weight="bold" text-anchor="start">CW</text>
<rect x="60.10" y="524.90" width="6.40" height="6.40" fill="#ff0000"/>
<circle cx="90.70" cy="528.10" r="3.50" fill="#fff" stroke="#ff0000" stroke-width="0.90"/>
<text x="106.10" y="530.90" font-family='"Liberation Sans", sans-serif' font-size="10.45" font-weight="bold" text-anchor="start">Pulse width=10 <tspan font-weight="normal">&#956;</tspan>s</text>
<path d="M63.30 537.40 L64.62 540.18 L67.67 540.58 L65.44 542.70 L66.00 545.72 L63.30 544.25 L60.60 545.72 L61.16 542.70 L58.93 540.58 L61.98 540.18 Z" fill="#fff" stroke="#000" stroke-width="1.05" stroke-linejoin="miter"/>
<text x="78.40" y="544.50" font-family='"Liberation Sans", sans-serif' font-size="10.75" font-weight="bold" text-anchor="start">CW and Bent@r=2.5 cm</text>
</svg>
</body></html>
